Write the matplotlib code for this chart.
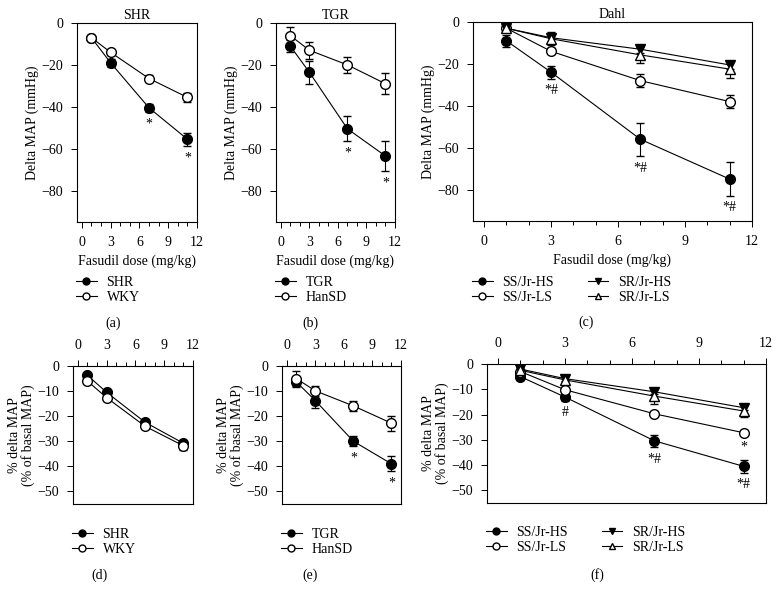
import matplotlib
matplotlib.use("Agg")
import matplotlib.pyplot as plt
from matplotlib.lines import Line2D
from matplotlib.ticker import MultipleLocator

plt.rcParams["font.family"] = ["Liberation Serif", "DejaVu Serif"]
plt.rcParams["font.size"] = 10
plt.rcParams["axes.linewidth"] = 0.8
plt.rcParams["xtick.major.width"] = 0.7
plt.rcParams["ytick.major.width"] = 0.7
plt.rcParams["xtick.minor.width"] = 0.7

W, H = 780, 600

doses = [1, 3, 7, 11]

# --- (a) SHR, delta MAP (mmHg) ---
shr_map = [-7, -19, -40.5, -55.5]
shr_map_err = [1.5, 2, 2, 3]
wky_map = [-7, -14, -26.5, -35.5]
wky_map_err = [1.5, 1.5, 1.5, 2]

# --- (b) TGR ---
tgr_map = [-11, -23.5, -50.5, -63.5]
tgr_map_err = [3, 5.5, 6, 7]
hansd_map = [-6, -13, -20, -29]
hansd_map_err = [4, 4, 4, 5]

# --- (c) Dahl ---
sshs_map = [-9, -24, -56, -75]
sshs_map_err = [3, 3, 8, 8]
ssls_map = [-3, -14, -28, -38]
ssls_map_err = [1.5, 1.5, 3, 3]
srhs_map = [-3, -7.5, -13, -20.5]
srhs_map_err = [1.5, 2, 2, 2]
srls_map = [-3, -8, -15.7, -22.5]
srls_map_err = [1.5, 3, 4, 4]

# --- (d) SHR, % delta MAP ---
shr_pct = [-3.7, -10.5, -22.4, -30.8]
shr_pct_err = [1, 1, 1, 1]
wky_pct = [-6, -12.6, -24, -31.8]
wky_pct_err = [1, 1, 1, 1.5]

# --- (e) TGR ---
tgr_pct = [-6.3, -13.8, -30, -39]
tgr_pct_err = [2, 3, 2, 3]
hansd_pct = [-5, -9.9, -15.9, -22.8]
hansd_pct_err = [3, 2, 2, 3]

# --- (f) Dahl ---
sshs_pct = [-5, -13.1, -30.4, -40.5]
sshs_pct_err = [1.5, 1.5, 2.5, 2.5]
ssls_pct = [-3, -10.2, -19.7, -27.2]
ssls_pct_err = [1, 1, 1, 1]
srhs_pct = [-2, -5.8, -11, -17.3]
srhs_pct_err = [1, 1, 1, 1]
srls_pct = [-2.5, -6.3, -12.7, -18.6]
srls_pct_err = [1, 1.5, 3, 2.5]

# marker styles
FILLED = dict(marker="o", mfc="black", mec="black")
OPEN = dict(marker="o", mfc="white", mec="black")
TRI_DOWN = dict(marker="v", mfc="black", mec="black")
TRI_UP = dict(marker="^", mfc="white", mec="black")


def px_axes(fig, l, r, t, b):
    return fig.add_axes([l / W, 1 - b / H, (r - l) / W, (b - t) / H])


def draw_series(ax, y, err, style, label, ms=7):
    ax.errorbar(doses, y, yerr=err, color="black", lw=0.8, ms=ms, mew=1.0,
                capsize=3, elinewidth=0.8, capthick=0.8, label=label,
                zorder=3, **style)


def annotate(ax, x_idx, y, err, text):
    ax.annotate(text, (doses[x_idx], y[x_idx] - err[x_idx]),
                xytext=(0, -4), textcoords="offset points",
                ha="center", va="top", fontsize=10)


def style_top(ax, title, ylabel):
    ax.set_xlim(-0.5, 12)
    ax.set_ylim(-95, 0)
    ax.xaxis.set_major_locator(MultipleLocator(3))
    ax.xaxis.set_minor_locator(MultipleLocator(1))
    ax.yaxis.set_major_locator(MultipleLocator(20))
    ax.tick_params(direction="out", length=4, pad=6)
    ax.tick_params(which="minor", direction="out", length=3)
    ax.set_title(title, fontsize=10, pad=3)
    ax.set_xlabel("Fasudil dose (mg/kg)", labelpad=4)
    ax.set_ylabel(ylabel, labelpad=2)


def style_bottom(ax, ylabel):
    ax.set_xlim(-0.5, 12)
    ax.set_ylim(-55, 0)
    ax.xaxis.tick_top()
    ax.xaxis.set_major_locator(MultipleLocator(3))
    ax.xaxis.set_minor_locator(MultipleLocator(1))
    ax.yaxis.set_major_locator(MultipleLocator(10))
    ax.tick_params(direction="out", length=4, pad=6)
    ax.tick_params(which="minor", direction="out", length=3)
    ax.set_ylabel(ylabel, labelpad=2, linespacing=1.0)


def add_legend(fig, ax, x, y, styles, labels, ncol=1):
    handles = [Line2D([], [], color="black", lw=0.8, ms=5, mew=1.0, **s)
               for s in styles]
    ax.legend(handles, labels, loc="upper left",
              bbox_to_anchor=(x / W, 1 - y / H),
              bbox_transform=fig.transFigure, frameon=False, ncol=ncol,
              borderpad=0, borderaxespad=0, handlelength=1.5,
              handletextpad=0.7, labelspacing=0.15, columnspacing=2.4,
              fontsize=10)


fig = plt.figure(figsize=(7.8, 6.0), dpi=100)

# (a)
ax = px_axes(fig, 77, 197, 23, 222)
draw_series(ax, shr_map, shr_map_err, FILLED, "SHR")
draw_series(ax, wky_map, wky_map_err, OPEN, "WKY")
annotate(ax, 2, shr_map, shr_map_err, "*")
annotate(ax, 3, shr_map, shr_map_err, "*")
style_top(ax, "SHR", "Delta MAP (mmHg)")
add_legend(fig, ax, 76, 276, [FILLED, OPEN], ["SHR", "WKY"])
fig.text(113 / W, 1 - 323 / H, "(a)", ha="center", va="center")

# (b)
ax = px_axes(fig, 276, 395, 23, 222)
draw_series(ax, tgr_map, tgr_map_err, FILLED, "TGR")
draw_series(ax, hansd_map, hansd_map_err, OPEN, "HanSD")
annotate(ax, 2, tgr_map, tgr_map_err, "*")
annotate(ax, 3, tgr_map, tgr_map_err, "*")
style_top(ax, "TGR", "Delta MAP (mmHg)")
add_legend(fig, ax, 275, 276, [FILLED, OPEN], ["TGR", "HanSD"])
fig.text(310 / W, 1 - 323 / H, "(b)", ha="center", va="center")

# (c)
dahl_labels = ["SS/Jr-HS", "SS/Jr-LS", "SR/Jr-HS", "SR/Jr-LS"]
dahl_styles = [FILLED, OPEN, TRI_DOWN, TRI_UP]
ax = px_axes(fig, 473, 752, 22, 221)
draw_series(ax, sshs_map, sshs_map_err, FILLED, dahl_labels[0])
draw_series(ax, ssls_map, ssls_map_err, OPEN, dahl_labels[1])
draw_series(ax, srhs_map, srhs_map_err, TRI_DOWN, dahl_labels[2])
draw_series(ax, srls_map, srls_map_err, TRI_UP, dahl_labels[3])
for i in (1, 2, 3):
    annotate(ax, i, sshs_map, sshs_map_err, "*#")
style_top(ax, "Dahl", "Delta MAP (mmHg)")
add_legend(fig, ax, 472, 276, dahl_styles, dahl_labels, ncol=2)
fig.text(586 / W, 1 - 322 / H, "(c)", ha="center", va="center")

# (d)
ax = px_axes(fig, 73, 193, 366, 504)
draw_series(ax, shr_pct, shr_pct_err, FILLED, "SHR")
draw_series(ax, wky_pct, wky_pct_err, OPEN, "WKY")
style_bottom(ax, "% delta MAP\n(% of basal MAP)")
add_legend(fig, ax, 72, 528, [FILLED, OPEN], ["SHR", "WKY"])
fig.text(100 / W, 1 - 575 / H, "(d)", ha="center", va="center")

# (e)
ax = px_axes(fig, 282, 401, 366, 504)
draw_series(ax, tgr_pct, tgr_pct_err, FILLED, "TGR")
draw_series(ax, hansd_pct, hansd_pct_err, OPEN, "HanSD")
annotate(ax, 2, tgr_pct, tgr_pct_err, "*")
annotate(ax, 3, tgr_pct, tgr_pct_err, "*")
style_bottom(ax, "% delta MAP\n(% of basal MAP)")
add_legend(fig, ax, 281, 528, [FILLED, OPEN], ["TGR", "HanSD"])
fig.text(310 / W, 1 - 575 / H, "(e)", ha="center", va="center")

# (f)
ax = px_axes(fig, 487, 766, 364, 503)
draw_series(ax, sshs_pct, sshs_pct_err, FILLED, dahl_labels[0])
draw_series(ax, ssls_pct, ssls_pct_err, OPEN, dahl_labels[1])
draw_series(ax, srhs_pct, srhs_pct_err, TRI_DOWN, dahl_labels[2])
draw_series(ax, srls_pct, srls_pct_err, TRI_UP, dahl_labels[3])
annotate(ax, 1, sshs_pct, sshs_pct_err, "#")
annotate(ax, 2, sshs_pct, sshs_pct_err, "*#")
annotate(ax, 3, sshs_pct, sshs_pct_err, "*#")
annotate(ax, 3, ssls_pct, ssls_pct_err, "*")
style_bottom(ax, "% delta MAP\n(% of basal MAP)")
add_legend(fig, ax, 486, 526, dahl_styles, dahl_labels, ncol=2)
fig.text(597 / W, 1 - 575 / H, "(f)", ha="center", va="center")

fig.savefig("out.png", dpi=100)
